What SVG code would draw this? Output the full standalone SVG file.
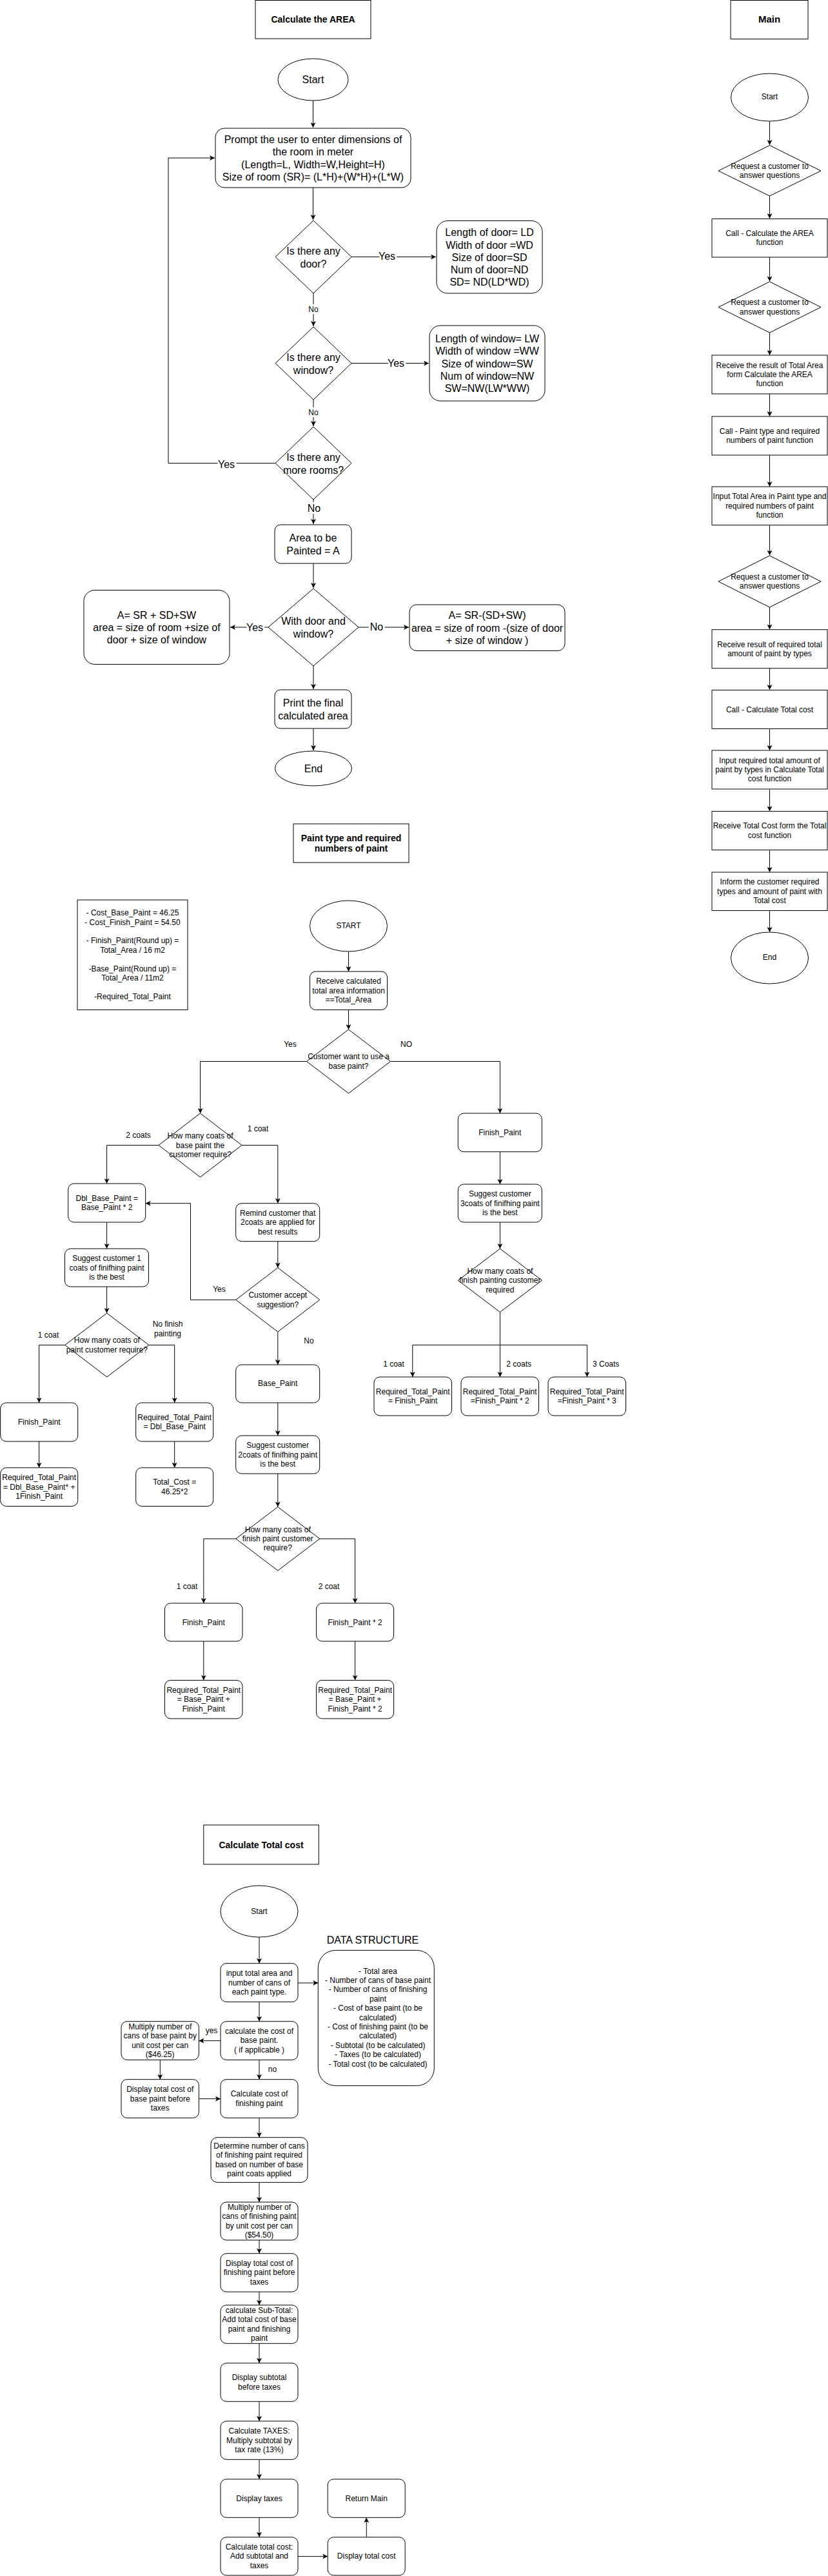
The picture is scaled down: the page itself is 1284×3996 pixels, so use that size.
<svg xmlns="http://www.w3.org/2000/svg" width="1284" height="3996" viewBox="0 0 1284 3996">
<style>
.n{fill:#fff;stroke:#000;stroke-width:1}
text{font-family:"Liberation Sans",Arial,Helvetica,sans-serif;text-anchor:middle;dominant-baseline:central;fill:#000}
.f16{font-size:16px}
.f12{font-size:12px}
.b14{font-size:14px;font-weight:bold}
.b15{font-size:15px;font-weight:bold}
.e{fill:none;stroke:#000;stroke-width:1;marker-end:url(#a)}
.l{paint-order:stroke;stroke:#fff;stroke-width:6px;stroke-linejoin:round}
</style>
<defs>
<marker id="a" viewBox="0 0 8 8" refX="8" refY="4" markerWidth="8" markerHeight="8" markerUnits="userSpaceOnUse" orient="auto">
<path d="M0,0 L8,4 L0,8 L2,4 Z" fill="#000"/>
</marker>
</defs>
<rect width="1284" height="3996" fill="#fff"/>

<!-- ===== Connectors ===== -->
<g id="connectors">
<!-- Calculate the AREA -->
<path class="e" d="M485.5,156 V198"/>
<path class="e" d="M485.5,291 V341"/>
<path class="e" d="M545,398.5 H676"/>
<path class="e" d="M486,455 V506"/>
<path class="e" d="M545,563.5 H665"/>
<path class="e" d="M486,620 V661"/>
<path class="e" d="M427,718.5 H261 V245 H333"/>
<path class="e" d="M486,775 V813"/>
<path class="e" d="M486,874 V912"/>
<path class="e" d="M416,973 H357"/>
<path class="e" d="M556,973 H634"/>
<path class="e" d="M486,1033 V1069"/>
<path class="e" d="M486,1130 V1164"/>
<!-- Main -->
<path class="e" d="M1193.5,188 V225"/>
<path class="e" d="M1193.5,304 V339"/>
<path class="e" d="M1193.5,399 V436.5"/>
<path class="e" d="M1193.5,516 V551"/>
<path class="e" d="M1193.5,611 V646"/>
<path class="e" d="M1193.5,706 V755"/>
<path class="e" d="M1193.5,814.5 V861.5"/>
<path class="e" d="M1193.5,942 V976.5"/>
<path class="e" d="M1193.5,1036.7 V1070"/>
<path class="e" d="M1193.5,1130.5 V1164"/>
<path class="e" d="M1193.5,1224 V1258.5"/>
<path class="e" d="M1193.5,1318.5 V1353"/>
<path class="e" d="M1193.5,1412.5 V1446"/>
<!-- Paint type -->
<path class="e" d="M540.5,1476 V1507"/>
<path class="e" d="M540.5,1566.5 V1597"/>
<path class="e" d="M475.5,1646.5 H310.6 V1727"/>
<path class="e" d="M605.5,1646.5 H775.4 V1727"/>
<path class="e" d="M246,1776.5 H165.6 V1836"/>
<path class="e" d="M375,1776.5 H430.8 V1866.7"/>
<path class="e" d="M165.6,1896 V1937"/>
<path class="e" d="M165.6,1996 V2037"/>
<path class="e" d="M430.8,1926 V1966.5"/>
<path class="e" d="M365.8,2016.3 H295.5 V1866.7 H225.7"/>
<path class="e" d="M430.8,2066 V2117"/>
<path class="e" d="M430.8,2176 V2227"/>
<path class="e" d="M430.8,2286 V2337.6"/>
<path class="e" d="M365.8,2387 H315.8 V2487"/>
<path class="e" d="M495.8,2387 H550.6 V2487"/>
<path class="e" d="M315.8,2546 V2606.5"/>
<path class="e" d="M550.6,2546 V2606.5"/>
<path class="e" d="M100.8,2086.5 H60.6 V2176"/>
<path class="e" d="M230.8,2086.5 H270.7 V2176"/>
<path class="e" d="M60.6,2236 V2276.8"/>
<path class="e" d="M270.7,2236 V2276.8"/>
<path class="e" d="M775.4,1786.7 V1837"/>
<path class="e" d="M775.4,1896 V1937"/>
<path class="e" d="M775.4,2035.4 V2136"/>
<path class="e" d="M775.4,2086.4 H639.8 V2136"/>
<path class="e" d="M775.4,2086.4 H910.4 V2136"/>
<!-- Total cost -->
<path class="e" d="M402,3005 V3045.7"/>
<path class="e" d="M462,3076 H493.3"/>
<path class="e" d="M402,3105.4 V3135.7"/>
<path class="e" d="M342,3165.7 H308.4"/>
<path class="e" d="M248.3,3195.4 V3225.7"/>
<path class="e" d="M308.4,3255.7 H342"/>
<path class="e" d="M402,3195.4 V3225.7"/>
<path class="e" d="M402,3285.4 V3315.7"/>
<path class="e" d="M402,3385.4 V3416"/>
<path class="e" d="M402,3475 V3495.7"/>
<path class="e" d="M402,3555.2 V3575.8"/>
<path class="e" d="M402,3635.3 V3665.8"/>
<path class="e" d="M402,3725.3 V3755.8"/>
<path class="e" d="M402,3815.3 V3845.8"/>
<path class="e" d="M402,3905.3 V3935.8"/>
<path class="e" d="M462,3965.6 H508.2"/>
<path class="e" d="M568.3,3935.8 V3905.3"/>
<!-- edge labels -->
<text class="f16 l" x="600" y="397">Yes</text>
<text class="f12 l" x="486" y="480">No</text>
<text class="f16 l" x="614" y="563">Yes</text>
<text class="f12 l" x="486" y="640">No</text>
<text class="f16 l" x="351" y="720">Yes</text>
<text class="f16 l" x="487" y="788">No</text>
<text class="f16 l" x="395" y="973">Yes</text>
<text class="f16 l" x="584" y="972">No</text>
<text class="f12" x="450" y="1620">Yes</text>
<text class="f12" x="630" y="1620">NO</text>
<text class="f12" x="214.5" y="1760.5">2 coats</text>
<text class="f12" x="400" y="1750.6">1 coat</text>
<text class="f12" x="340" y="2000">Yes</text>
<text class="f12" x="479" y="2080">No</text>
<text class="f12" x="290" y="2460.5">1 coat</text>
<text class="f12" x="510" y="2460.5">2 coat</text>
<text class="f12" x="75" y="2070.5">1 coat</text>
<text class="f12" x="260" y="2053.5">No finish</text>
<text class="f12" x="260" y="2068.8">painting</text>
<text class="f12" x="610.5" y="2115.5">1 coat</text>
<text class="f12" x="804.7" y="2115.5">2 coats</text>
<text class="f12" x="939.7" y="2115.5">3 Coats</text>
<text class="f12" x="328" y="3150">yes</text>
<text class="f12" x="422.4" y="3210">no</text>
</g>

<!-- ===== Calculate the AREA ===== -->
<g id="area-title"><rect class="n" x="396" y="0.5" width="179" height="59.5"/><text class="b14" x="485.5" y="30">Calculate the AREA</text></g>
<g id="area-start"><ellipse class="n" cx="485.5" cy="123.5" rx="54.5" ry="32.5"/><text class="f16" x="485.5" y="123">Start</text></g>
<g id="area-prompt"><rect class="n" x="334" y="199" width="303" height="92" rx="14"/>
<text class="f16" x="485.5"><tspan x="485.5" y="216.2">Prompt the user to enter dimensions of</tspan><tspan x="485.5" y="235.4">the room in meter</tspan><tspan x="485.5" y="254.6">(Length=L, Width=W,Height=H)</tspan><tspan x="485.5" y="273.8">Size of room (SR)= (L*H)+(W*H)+(L*W)</tspan></text></g>
<g id="area-door-q"><polygon class="n" points="486,342 545,398.5 486,455 427,398.5"/><text class="f16"><tspan x="486" y="389">Is there any</tspan><tspan x="486" y="408.5">door?</tspan></text></g>
<g id="area-door"><rect class="n" x="677" y="342.5" width="164" height="112.5" rx="17"/>
<text class="f16"><tspan x="759" y="360.4">Length of door= LD</tspan><tspan x="759" y="379.6">Width of door =WD</tspan><tspan x="759" y="398.8">Size of door=SD</tspan><tspan x="759" y="418">Num of door=ND</tspan><tspan x="759" y="437.2">SD= ND(LD*WD)</tspan></text></g>
<g id="area-window-q"><polygon class="n" points="486,507 545,563.5 486,620 427,563.5"/><text class="f16"><tspan x="486" y="554">Is there any</tspan><tspan x="486" y="573.5">window?</tspan></text></g>
<g id="area-window"><rect class="n" x="666" y="505" width="179" height="117" rx="17"/>
<text class="f16"><tspan x="755.5" y="525.1">Length of window= LW</tspan><tspan x="755.5" y="544.3">Width of window =WW</tspan><tspan x="755.5" y="563.5">Size of window=SW</tspan><tspan x="755.5" y="582.7">Num of window=NW</tspan><tspan x="755.5" y="601.9">SW=NW(LW*WW)</tspan></text></g>
<g id="area-more-q"><polygon class="n" points="486,662 545,718.5 486,775 427,718.5"/><text class="f16"><tspan x="486" y="708.5">Is there any</tspan><tspan x="486" y="728.5">more rooms?</tspan></text></g>
<g id="area-a"><rect class="n" x="426" y="814" width="119" height="60" rx="9"/><text class="f16"><tspan x="485.5" y="834.4">Area to be</tspan><tspan x="485.5" y="853.6">Painted = A</tspan></text></g>
<g id="area-with-q"><polygon class="n" points="486,913 556,973 486,1033 416,973"/><text class="f16"><tspan x="486" y="963.4">With door and</tspan><tspan x="486" y="982.6">window?</tspan></text></g>
<g id="area-yes-box"><rect class="n" x="130" y="915.5" width="226" height="115" rx="17"/>
<text class="f16"><tspan x="243" y="953.5">A= SR + SD+SW</tspan><tspan x="243" y="972.7">area = size of room +size of</tspan><tspan x="243" y="991.9">door + size of window</tspan></text></g>
<g id="area-no-box"><rect class="n" x="635" y="938" width="241" height="71.5" rx="11"/>
<text class="f16"><tspan x="755.5" y="954.3">A= SR-(SD+SW)</tspan><tspan x="755.5" y="973.5">area = size of room -(size of door</tspan><tspan x="755.5" y="992.7">+ size of window )</tspan></text></g>
<g id="area-print"><rect class="n" x="426" y="1070" width="119" height="60" rx="9"/><text class="f16"><tspan x="485.5" y="1090.4">Print the final</tspan><tspan x="485.5" y="1109.6">calculated area</tspan></text></g>
<g id="area-end"><ellipse class="n" cx="486" cy="1192" rx="59.5" ry="27"/><text class="f16" x="486" y="1192">End</text></g>

<!-- ===== Main ===== -->
<g id="main-title"><rect class="n" x="1133" y="0.5" width="120" height="60"/><text class="b15" x="1193" y="29">Main</text></g>
<g id="main-start"><ellipse class="n" cx="1193.5" cy="151" rx="60" ry="37"/><text class="f12" x="1193.5" y="150">Start</text></g>
<g id="main-q1"><polygon class="n" points="1193.5,225.5 1273,265 1193.5,304 1114,265"/><text class="f12"><tspan x="1193.5" y="257.8">Request a customer to</tspan><tspan x="1193.5" y="272.2">answer questions</tspan></text></g>
<g id="main-b1"><rect class="n" x="1104" y="339.5" width="179" height="59.5"/><text class="f12"><tspan x="1193.5" y="361.8">Call - Calculate the AREA</tspan><tspan x="1193.5" y="376.2">function</tspan></text></g>
<g id="main-q2"><polygon class="n" points="1193.5,437 1273,476.5 1193.5,516 1114,476.5"/><text class="f12"><tspan x="1193.5" y="469.3">Request a customer to</tspan><tspan x="1193.5" y="483.7">answer questions</tspan></text></g>
<g id="main-b2"><rect class="n" x="1104" y="551" width="179" height="60"/><text class="f12"><tspan x="1193.5" y="566.6">Receive the result of Total Area</tspan><tspan x="1193.5" y="581">form Calculate the AREA</tspan><tspan x="1193.5" y="595.4">function</tspan></text></g>
<g id="main-b3"><rect class="n" x="1104" y="646" width="179" height="60"/><text class="f12"><tspan x="1193.5" y="668.8">Call - Paint type and required</tspan><tspan x="1193.5" y="683.2">numbers of paint function</tspan></text></g>
<g id="main-b4"><rect class="n" x="1104" y="755" width="179" height="59.5"/><text class="f12"><tspan x="1193.5" y="770.1">Input Total Area in Paint type and</tspan><tspan x="1193.5" y="784.5">required numbers of paint</tspan><tspan x="1193.5" y="798.9">function</tspan></text></g>
<g id="main-q3"><polygon class="n" points="1193.5,862 1273,902 1193.5,942 1114,902"/><text class="f12"><tspan x="1193.5" y="894.8">Request a customer to</tspan><tspan x="1193.5" y="909.2">answer questions</tspan></text></g>
<g id="main-b5"><rect class="n" x="1104" y="976.7" width="179" height="60"/><text class="f12"><tspan x="1193.5" y="999.5">Receive result of required total</tspan><tspan x="1193.5" y="1013.9">amount of paint by types</tspan></text></g>
<g id="main-b6"><rect class="n" x="1104" y="1070.5" width="179" height="60"/><text class="f12" x="1193.5" y="1100.5">Call - Calculate Total cost</text></g>
<g id="main-b7"><rect class="n" x="1104" y="1164" width="179" height="60"/><text class="f12"><tspan x="1193.5" y="1179.6">Input required total amount of</tspan><tspan x="1193.5" y="1194">paint by types in Calculate Total</tspan><tspan x="1193.5" y="1208.4">cost function</tspan></text></g>
<g id="main-b8"><rect class="n" x="1104" y="1258.5" width="179" height="60"/><text class="f12"><tspan x="1193.5" y="1281.3">Receive Total Cost form the Total</tspan><tspan x="1193.5" y="1295.7">cost function</tspan></text></g>
<g id="main-b9"><rect class="n" x="1104" y="1353" width="179" height="59.5"/><text class="f12"><tspan x="1193.5" y="1368.4">Inform the customer required</tspan><tspan x="1193.5" y="1382.8">types and amount of paint with</tspan><tspan x="1193.5" y="1397.2">Total cost</tspan></text></g>
<g id="main-end"><ellipse class="n" cx="1193.5" cy="1486" rx="60" ry="40"/><text class="f12" x="1193.5" y="1485">End</text></g>

<!-- ===== Paint type and required numbers of paint ===== -->
<g id="paint-title"><rect class="n" x="455" y="1278" width="179" height="60"/><text class="b14"><tspan x="544.5" y="1299.6">Paint type and required</tspan><tspan x="544.5" y="1316.4">numbers of paint</tspan></text></g>
<g id="paint-legend"><rect class="n" x="120" y="1396" width="171" height="170.5"/>
<text class="f12"><tspan x="205.5" y="1416.2">- Cost_Base_Paint = 46.25</tspan><tspan x="205.5" y="1430.6">- Cost_Finish_Paint = 54.50</tspan><tspan x="205.5" y="1459.4">- Finish_Paint(Round up) =</tspan><tspan x="205.5" y="1473.8">Total_Area / 16 m2</tspan><tspan x="205.5" y="1502.6">-Base_Paint(Round up) =</tspan><tspan x="205.5" y="1517">Total_Area / 11m2</tspan><tspan x="205.5" y="1545.8">-Required_Total_Paint</tspan></text></g>
<g id="paint-start"><ellipse class="n" cx="540.5" cy="1436.5" rx="60" ry="39.5"/><text class="f12" x="540.5" y="1435.5">START</text></g>
<g id="paint-receive"><rect class="n" x="480.5" y="1507" width="120" height="59.5" rx="9"/><text class="f12"><tspan x="540.5" y="1522.4">Receive calculated</tspan><tspan x="540.5" y="1536.8">total area information</tspan><tspan x="540.5" y="1551.2">==Total_Area</tspan></text></g>
<g id="paint-q-base"><polygon class="n" points="540.5,1597 605.5,1646.5 540.5,1696 475.5,1646.5"/><text class="f12"><tspan x="540.5" y="1639.3">Customer want to use a</tspan><tspan x="540.5" y="1653.7">base paint?</tspan></text></g>
<g id="paint-q-basecoats"><polygon class="n" points="310.5,1727 375,1776.5 310.5,1826 246,1776.5"/><text class="f12"><tspan x="310.5" y="1762.1">How many coats of</tspan><tspan x="310.5" y="1776.5">base paint the</tspan><tspan x="310.5" y="1790.9">customer require?</tspan></text></g>
<g id="paint-dbl"><rect class="n" x="105.7" y="1836" width="120" height="60" rx="9"/><text class="f12"><tspan x="165.7" y="1858.8">Dbl_Base_Paint =</tspan><tspan x="165.7" y="1873.2">Base_Paint * 2</tspan></text></g>
<g id="paint-suggest1"><rect class="n" x="100.5" y="1937" width="130" height="59" rx="9"/><text class="f12"><tspan x="165.5" y="1952.1">Suggest customer 1</tspan><tspan x="165.5" y="1966.5">coats of finifhing paint</tspan><tspan x="165.5" y="1980.9">is the best</tspan></text></g>
<g id="paint-q-coats1"><polygon class="n" points="165.8,2037 230.8,2086.5 165.8,2136 100.8,2086.5"/><text class="f12"><tspan x="165.8" y="2079.3">How many coats of</tspan><tspan x="165.8" y="2093.7">paint customer require?</tspan></text></g>
<g id="paint-fin-a"><rect class="n" x="0.7" y="2176" width="120" height="60" rx="9"/><text class="f12" x="60.7" y="2206">Finish_Paint</text></g>
<g id="paint-req-a"><rect class="n" x="0.7" y="2276.8" width="120" height="59.7" rx="9"/><text class="f12"><tspan x="60.7" y="2292.2">Required_Total_Paint</tspan><tspan x="60.7" y="2306.6">= Dbl_Base_Paint* +</tspan><tspan x="60.7" y="2321">1Finish_Paint</tspan></text></g>
<g id="paint-req-b"><rect class="n" x="210.7" y="2176" width="120" height="60" rx="9"/><text class="f12"><tspan x="270.7" y="2198.8">Required_Total_Paint</tspan><tspan x="270.7" y="2213.2">= Dbl_Base_Paint</tspan></text></g>
<g id="paint-totalcost"><rect class="n" x="210.7" y="2276.8" width="120" height="59.7" rx="9"/><text class="f12"><tspan x="270.7" y="2299.4">Total_Cost =</tspan><tspan x="270.7" y="2313.8">46.25*2</tspan></text></g>
<g id="paint-remind"><rect class="n" x="365.7" y="1866.7" width="130" height="59" rx="9"/><text class="f12"><tspan x="430.7" y="1881.8">Remind customer that</tspan><tspan x="430.7" y="1896.2">2coats are applied for</tspan><tspan x="430.7" y="1910.6">best results</tspan></text></g>
<g id="paint-q-accept"><polygon class="n" points="430.8,1966.5 495.8,2016.3 430.8,2066 365.8,2016.3"/><text class="f12"><tspan x="430.8" y="2009.1">Customer accept</tspan><tspan x="430.8" y="2023.5">suggestion?</tspan></text></g>
<g id="paint-base"><rect class="n" x="365.7" y="2117" width="130" height="59" rx="9"/><text class="f12" x="430.7" y="2146">Base_Paint</text></g>
<g id="paint-suggest2"><rect class="n" x="365.7" y="2227" width="130" height="59" rx="9"/><text class="f12"><tspan x="430.7" y="2242.1">Suggest customer</tspan><tspan x="430.7" y="2256.5">2coats of finifhing paint</tspan><tspan x="430.7" y="2270.9">is the best</tspan></text></g>
<g id="paint-q-fincoats"><polygon class="n" points="430.8,2337.6 495.8,2387 430.8,2436.4 365.8,2387"/><text class="f12"><tspan x="430.8" y="2372.6">How many coats of</tspan><tspan x="430.8" y="2387">finish paint customer</tspan><tspan x="430.8" y="2401.4">require?</tspan></text></g>
<g id="paint-fin-c"><rect class="n" x="255.5" y="2487" width="120.5" height="59" rx="9"/><text class="f12" x="315.8" y="2516.5">Finish_Paint</text></g>
<g id="paint-req-c"><rect class="n" x="255.5" y="2606.5" width="120.5" height="59.5" rx="9"/><text class="f12"><tspan x="315.8" y="2621.8">Required_Total_Paint</tspan><tspan x="315.8" y="2636.2">= Base_Paint +</tspan><tspan x="315.8" y="2650.6">Finish_Paint</tspan></text></g>
<g id="paint-fin-d"><rect class="n" x="490.6" y="2487" width="120" height="59" rx="9"/><text class="f12" x="550.6" y="2516.5">Finish_Paint * 2</text></g>
<g id="paint-req-d"><rect class="n" x="490.6" y="2606.5" width="120" height="59.5" rx="9"/><text class="f12"><tspan x="550.6" y="2621.8">Required_Total_Paint</tspan><tspan x="550.6" y="2636.2">= Base_Paint +</tspan><tspan x="550.6" y="2650.6">Finish_Paint * 2</tspan></text></g>
<g id="paint-fin-e"><rect class="n" x="710.3" y="1727" width="130" height="59.7" rx="9"/><text class="f12" x="775.3" y="1756.8">Finish_Paint</text></g>
<g id="paint-suggest3"><rect class="n" x="710.3" y="1837" width="130" height="59" rx="9"/><text class="f12"><tspan x="775.3" y="1852.1">Suggest customer</tspan><tspan x="775.3" y="1866.5">3coats of finifhing paint</tspan><tspan x="775.3" y="1880.9">is the best</tspan></text></g>
<g id="paint-q-finpaint"><polygon class="n" points="775.4,1937 840.4,1986.2 775.4,2035.4 710.4,1986.2"/><text class="f12"><tspan x="775.4" y="1971.8">How many coats of</tspan><tspan x="775.4" y="1986.2">finish painting customer</tspan><tspan x="775.4" y="2000.6">required</tspan></text></g>
<g id="paint-req-e1"><rect class="n" x="580" y="2136" width="120.5" height="60" rx="9"/><text class="f12"><tspan x="640.2" y="2158.8">Required_Total_Paint</tspan><tspan x="640.2" y="2173.2">= Finish_Paint</tspan></text></g>
<g id="paint-req-e2"><rect class="n" x="715" y="2136" width="120.5" height="60" rx="9"/><text class="f12"><tspan x="775.2" y="2158.8">Required_Total_Paint</tspan><tspan x="775.2" y="2173.2">=Finish_Paint * 2</tspan></text></g>
<g id="paint-req-e3"><rect class="n" x="850" y="2136" width="120.5" height="60" rx="9"/><text class="f12"><tspan x="910.2" y="2158.8">Required_Total_Paint</tspan><tspan x="910.2" y="2173.2">=Finish_Paint * 3</tspan></text></g>

<!-- ===== Calculate Total cost ===== -->
<g id="cost-title"><rect class="n" x="315.8" y="2831" width="178.5" height="61"/><text class="b14" x="405" y="2862">Calculate Total cost</text></g>
<g id="cost-start"><ellipse class="n" cx="402" cy="2965" rx="60" ry="40"/><text class="f12" x="402" y="2964.6">Start</text></g>
<g id="cost-input"><rect class="n" x="342" y="3045.7" width="120" height="59.7" rx="9"/><text class="f12"><tspan x="402" y="3061.1">input total area and</tspan><tspan x="402" y="3075.5">number of cans of</tspan><tspan x="402" y="3089.9">each paint type.</tspan></text></g>
<g id="cost-ds"><text class="f16" x="578" y="3009">DATA STRUCTURE</text><rect class="n" x="493.3" y="3025.4" width="180" height="210" rx="27"/>
<text class="f12"><tspan x="586" y="3057.5">- Total area</tspan><tspan x="586" y="3071.9">- Number of cans of base paint</tspan><tspan x="586" y="3086.3">- Number of cans of finishing</tspan><tspan x="586" y="3100.7">paint</tspan><tspan x="586" y="3115.1">- Cost of base paint (to be</tspan><tspan x="586" y="3129.5">calculated)</tspan><tspan x="586" y="3143.9">- Cost of finishing paint (to be</tspan><tspan x="586" y="3158.3">calculated)</tspan><tspan x="586" y="3172.7">- Subtotal (to be calculated)</tspan><tspan x="586" y="3187.1">- Taxes (to be calculated)</tspan><tspan x="586" y="3201.5">- Total cost (to be calculated)</tspan></text></g>
<g id="cost-base"><rect class="n" x="342" y="3135.7" width="120" height="59.7" rx="9"/><text class="f12"><tspan x="402" y="3151">calculate the cost of</tspan><tspan x="402" y="3165.4">base paint.</tspan><tspan x="402" y="3179.8">( if applicable )</tspan></text></g>
<g id="cost-mult-base"><rect class="n" x="188" y="3135.7" width="120.4" height="59.7" rx="9"/><text class="f12"><tspan x="248.2" y="3144">Multiply number of</tspan><tspan x="248.2" y="3158.4">cans of base paint by</tspan><tspan x="248.2" y="3172.8">unit cost per can</tspan><tspan x="248.2" y="3187.2">($46.25)</tspan></text></g>
<g id="cost-disp-base"><rect class="n" x="188" y="3225.7" width="120.4" height="59.7" rx="9"/><text class="f12"><tspan x="248.2" y="3241.2">Display total cost of</tspan><tspan x="248.2" y="3255.6">base paint before</tspan><tspan x="248.2" y="3270">taxes</tspan></text></g>
<g id="cost-fin"><rect class="n" x="342" y="3225.7" width="120" height="59.7" rx="9"/><text class="f12"><tspan x="402" y="3248.4">Calculate cost of</tspan><tspan x="402" y="3262.8">finishing paint</tspan></text></g>
<g id="cost-determine"><rect class="n" x="327" y="3315.7" width="150" height="69.7" rx="10"/><text class="f12"><tspan x="402" y="3329">Determine number of cans</tspan><tspan x="402" y="3343.4">of finishing paint required</tspan><tspan x="402" y="3357.8">based on number of base</tspan><tspan x="402" y="3372.2">paint coats applied</tspan></text></g>
<g id="cost-mult-fin"><rect class="n" x="342" y="3416" width="120" height="59" rx="9"/><text class="f12"><tspan x="402" y="3423.9">Multiply number of</tspan><tspan x="402" y="3438.3">cans of finishing paint</tspan><tspan x="402" y="3452.7">by unit cost per can</tspan><tspan x="402" y="3467.1">($54.50)</tspan></text></g>
<g id="cost-disp-fin"><rect class="n" x="342" y="3495.7" width="120" height="59.5" rx="9"/><text class="f12"><tspan x="402" y="3511">Display total cost of</tspan><tspan x="402" y="3525.4">finishing paint before</tspan><tspan x="402" y="3539.8">taxes</tspan></text></g>
<g id="cost-subtotal"><rect class="n" x="342" y="3575.8" width="120" height="59.5" rx="9"/><text class="f12"><tspan x="402" y="3583.9">calculate Sub-Total:</tspan><tspan x="402" y="3598.3">Add total cost of base</tspan><tspan x="402" y="3612.7">paint and finishing</tspan><tspan x="402" y="3627.1">paint</tspan></text></g>
<g id="cost-disp-sub"><rect class="n" x="342" y="3665.8" width="120" height="59.5" rx="9"/><text class="f12"><tspan x="402" y="3688.3">Display subtotal</tspan><tspan x="402" y="3702.7">before taxes</tspan></text></g>
<g id="cost-taxes"><rect class="n" x="342" y="3755.8" width="120" height="59.5" rx="9"/><text class="f12"><tspan x="402" y="3771.1">Calculate TAXES:</tspan><tspan x="402" y="3785.5">Multiply subtotal by</tspan><tspan x="402" y="3799.9">tax rate (13%)</tspan></text></g>
<g id="cost-disp-tax"><rect class="n" x="342" y="3845.8" width="120" height="59.5" rx="9"/><text class="f12" x="402" y="3875.5">Display taxes</text></g>
<g id="cost-total"><rect class="n" x="342" y="3935.8" width="120" height="59.2" rx="9"/><text class="f12"><tspan x="402" y="3951">Calculate total cost:</tspan><tspan x="402" y="3965.4">Add subtotal and</tspan><tspan x="402" y="3979.8">taxes</tspan></text></g>
<g id="cost-disp-total"><rect class="n" x="508.2" y="3935.8" width="120" height="59.2" rx="9"/><text class="f12" x="568.2" y="3965.4">Display total cost</text></g>
<g id="cost-return"><rect class="n" x="508.2" y="3845.8" width="120" height="59.5" rx="9"/><text class="f12" x="568.2" y="3875.5">Return Main</text></g>
</svg>
